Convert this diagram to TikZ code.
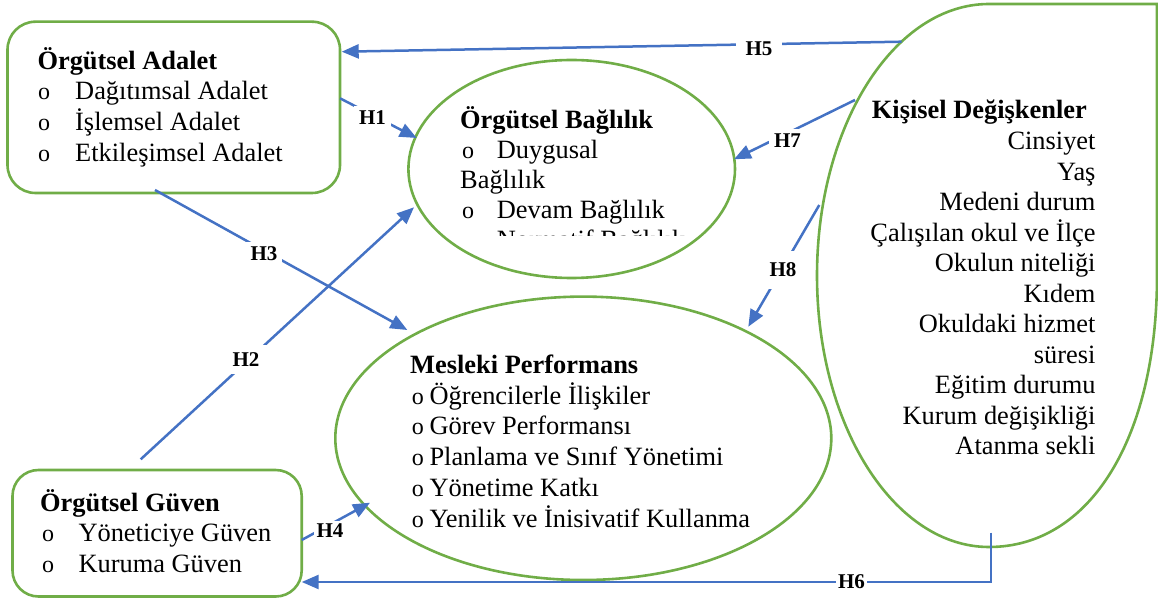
\documentclass[tikz,border=0pt]{standalone}
\usepackage{fontspec}
\setmainfont{Liberation Serif}
\usetikzlibrary{shapes.geometric,arrows.meta}
\definecolor{grn}{HTML}{70AD47}
\definecolor{blu}{HTML}{4472C4}
\begin{document}
\begin{tikzpicture}[x=1pt,y=-1pt,
  shp/.style={draw=grn,line width=2.6pt},
  conn/.style={draw=blu,line width=2.5pt,-{Triangle[length=17pt,width=14pt]}},
  lbl/.style={fill=white,inner sep=5pt,font=\fontsize{21}{21}\selectfont\bfseries},
  txt/.style={inner sep=0pt,anchor=base west,font=\fontsize{26.4}{30}\selectfont},
  bul/.style={inner sep=0pt,anchor=base west,font=\fontsize{24}{30}\selectfont},
  rtxt/.style={inner sep=0pt,anchor=base east,font=\fontsize{26.4}{30}\selectfont},
  ttl/.style={inner sep=0pt,anchor=base west,font=\fontsize{26.4}{30}\selectfont\bfseries}]
\useasboundingbox (0,0) rectangle (1158,601);
% shapes
\node[shp,rectangle,rounded corners=28pt,minimum width=332.5pt,minimum height=171.3pt,inner sep=0pt] (adalet) at (173.75,107.35) {};
\node[shp,rectangle,rounded corners=26pt,minimum width=289.2pt,minimum height=126.5pt,inner sep=0pt] (guven) at (157.1,533.25) {};
\node[shp,ellipse,minimum width=326.6pt,minimum height=218pt,inner sep=0pt] (baglilik) at (571.7,169) {};
\node[shp,ellipse,minimum width=496pt,minimum height=283.4pt,inner sep=0pt] (perf) at (583.3,438.3) {};
\draw[shp] (989,4) -- (1157,4) -- (1157,275.5)
  .. controls (1157,438.4) and (1089.8,547) .. (989,547)
  .. controls (894,547) and (817,425.5) .. (817,275.5)
  .. controls (817,125.5) and (894,4) .. (989,4) -- cycle;
% connector end points
\coordinate (h5s) at (901.7,41.7);  \coordinate (h5e) at (341.7,51.7);
\coordinate (h1s) at (340,98.3);    \coordinate (h1e) at (416.7,138);
\coordinate (h3s) at (155,190);     \coordinate (h3e) at (407.3,330);
\coordinate (h2s) at (140.7,459.3); \coordinate (h2e) at (414,207.3);
\coordinate (h4s) at (301.7,540);   \coordinate (h4e) at (370,502.7);
\coordinate (h7s) at (855,100);     \coordinate (h7e) at (734,159.3);
\coordinate (h8s) at (819.3,205);   \coordinate (h8e) at (748.3,326.7);
\coordinate (h6s) at (991,532.7);   \coordinate (h6c) at (991,582); \coordinate (h6e) at (301.7,582);
% connectors
\draw[conn] (h5s) -- (h5e);
\draw[conn] (h1s) -- (h1e);
\draw[conn] (h3s) -- (h3e);
\draw[conn] (h2s) -- (h2e);
\draw[conn] (h4s) -- (h4e);
\draw[conn] (h7s) -- (h7e);
\draw[conn] (h8s) -- (h8e);
\draw[conn] (h6s) -- (h6c) -- (h6e);
% labels
\node[lbl,inner xsep=10pt] (l5) at (759,49) {H5};
\node[lbl] (l1) at (372.5,118) {H1};
\node[lbl] (l7) at (787.5,141) {H7};
\node[lbl,inner ysep=12pt] (l8) at (783,270) {H8};
\node[lbl] (l3) at (264,254) {H3};
\node[lbl,inner sep=8pt] (l2) at (246,359.5) {H2};
\node[lbl,inner sep=3pt] (l4) at (330,531) {H4};
\node[lbl,inner sep=2pt] (l6) at (851.5,582) {H6};
% Örgütsel Adalet
\node[ttl] (a0) at (37.3,70) {Örgütsel Adalet};
\node[bul] (ab1) at (38,100) {o};   \node[txt] (a1) at (75,100) {Dağıtımsal Adalet};
\node[bul] (ab2) at (38,130.9) {o}; \node[txt] (a2) at (75,130.9) {İşlemsel Adalet};
\node[bul] (ab3) at (38,161.7) {o}; \node[txt] (a3) at (75,161.7) {Etkileşimsel Adalet};
% Örgütsel Güven
\node[ttl] (g0) at (40,511.7) {Örgütsel Güven};
\node[bul] (gb1) at (42,541.7) {o}; \node[txt] (g1) at (78.3,541.7) {Yöneticiye Güven};
\node[bul] (gb2) at (42,572) {o};   \node[txt] (g2) at (78.3,572) {Kuruma Güven};
% Örgütsel Bağlılık
\node[ttl] (b0) at (460,128.3) {Örgütsel Bağlılık};
\node[bul] (bb1) at (462,158.3) {o}; \node[txt] (b1) at (496.7,158.3) {Duygusal};
\node[txt] (b1b) at (460,188.3) {Bağlılık};
\node[bul] (bb2) at (462,218.3) {o}; \node[txt] (b2) at (496.7,218.3) {Devam Bağlılık};
\begin{scope}
\clip (440,222) rectangle (720,235.5);
\node[bul] (bb3) at (462,248.3) {o}; \node[txt] (b3) at (496.7,248.3) {Normatif Bağlılık};
\end{scope}
% Mesleki Performans
\node[ttl] (p0) at (410,373.3) {Mesleki Performans};
\node[bul] (pb1) at (411.7,404.1) {o}; \node[txt] (p1) at (429.3,404.1) {Öğrencilerle İlişkiler};
\node[bul] (pb2) at (411.7,434.9) {o}; \node[txt] (p2) at (429.3,434.9) {Görev Performansı};
\node[bul] (pb3) at (411.7,465.7) {o}; \node[txt] (p3) at (429.3,465.7) {Planlama ve Sınıf Yönetimi};
\node[bul] (pb4) at (411.7,496.5) {o}; \node[txt] (p4) at (429.3,496.5) {Yönetime Katkı};
\node[bul] (pb5) at (411.7,527.3) {o}; \node[txt] (p5) at (429.3,527.3) {Yenilik ve İnisivatif Kullanma};
% Kişisel Değişkenler
\node[ttl] (k0) at (871.7,119) {Kişisel Değişkenler};
\node[rtxt] (k1) at (1095.7,149.8) {Cinsiyet};
\node[rtxt] (k2) at (1095.7,180.3) {Yaş};
\node[rtxt] (k3) at (1095.7,210.8) {Medeni durum};
\node[rtxt] (k4) at (1095.7,241.3) {Çalışılan okul ve İlçe};
\node[rtxt] (k5) at (1095.7,271.8) {Okulun niteliği};
\node[rtxt] (k6) at (1095.7,302.3) {Kıdem};
\node[rtxt] (k7) at (1095.7,332.8) {Okuldaki hizmet};
\node[rtxt] (k8) at (1095.7,363.3) {süresi};
\node[rtxt] (k9) at (1095.7,393.8) {Eğitim durumu};
\node[rtxt] (k10) at (1095.7,424.3) {Kurum değişikliği};
\node[rtxt] (k11) at (1095.7,454.8) {Atanma sekli};
\end{tikzpicture}
\end{document}
